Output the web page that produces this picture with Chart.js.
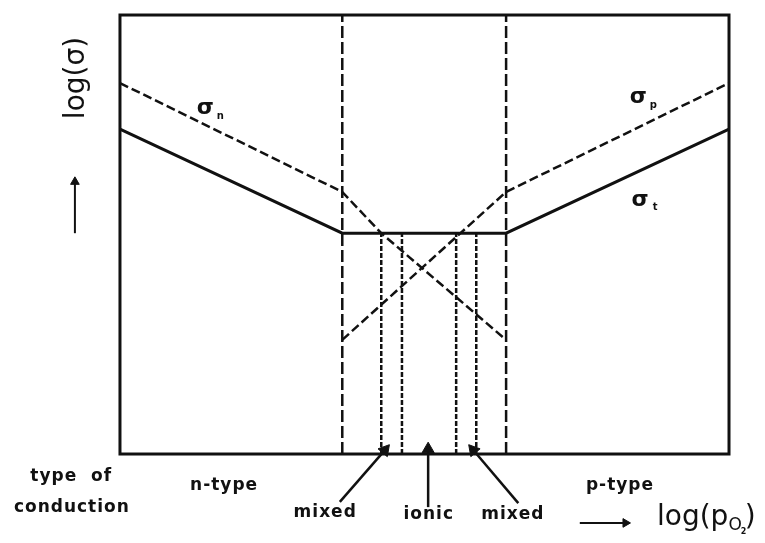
<!DOCTYPE html>
<html>
<head>
<meta charset="utf-8">
<script src="https://cdn.jsdelivr.net/npm/chart.js@4/dist/chart.umd.min.js"></script>
<style>
  html, body { margin: 0; padding: 0; background: #fff; }
  canvas { display: block; }
</style>
</head>
<body>
<canvas id="graficoConducao" width="765" height="543"></canvas>
<script>
// Condutividade em função de log(pO2): regiões n, misto, iônico, misto, p
const limitesExternos = [3.65, 6.34];
const limitesInternos = [4.29, 4.63, 5.52, 5.85];
const nivelIonico = 5.03;

const sigmaTx = [0, 3.65, 6.34, 10];
const sigmaTy = [7.4, 5.03, 5.03, 7.4];
const sigmaNx = [0, 3.65, 4.29, 6.34];
const sigmaNy = [8.45, 5.97, 5.03, 2.6];
const sigmaPx = [3.65, 6.34, 10];
const sigmaPy = [2.6, 5.97, 8.45];

const preto = '#111';
const pontos = (xs, ys) => xs.map((x, i) => ({ x: x, y: ys[i] }));

// setas (cauda -> ponta), rotação da ponta em graus
const setas = [
  { de: [3.61, -1.09], para: [4.35, 0.09], rot: 40, r: 7 },
  { de: [5.06, -1.21], para: [5.06, 0.11], rot: 0, r: 7 },
  { de: [6.54, -1.12], para: [5.80, 0.09], rot: -40, r: 7 },
  { de: [-0.74, 5.03], para: [-0.74, 6.2], rot: 0, r: 5, w: 2 },
  { de: [7.55, -1.57], para: [8.3, -1.57], rot: 90, r: 5, w: 2 }
];

const datasets = [];

limitesExternos.forEach(x => {
  datasets.push({
    data: [{ x: x, y: 0 }, { x: x, y: 10 }],
    borderColor: preto, borderWidth: 2.5, borderDash: [12, 4], pointRadius: 0
  });
});

limitesInternos.forEach(x => {
  datasets.push({
    data: [{ x: x, y: 0 }, { x: x, y: nivelIonico }],
    borderColor: preto, borderWidth: 2.5, borderDash: [5, 2], pointRadius: 0
  });
});

datasets.push({
  label: 'σn', data: pontos(sigmaNx, sigmaNy),
  borderColor: preto, borderWidth: 2.5, borderDash: [9, 4], pointRadius: 0
});
datasets.push({
  label: 'σp', data: pontos(sigmaPx, sigmaPy),
  borderColor: preto, borderWidth: 2.5, borderDash: [9, 4], pointRadius: 0
});
datasets.push({
  label: 'σt', data: pontos(sigmaTx, sigmaTy),
  borderColor: preto, borderWidth: 3, pointRadius: 0
});

setas.forEach(s => {
  datasets.push({
    data: [{ x: s.de[0], y: s.de[1] }, { x: s.para[0], y: s.para[1] }],
    borderColor: preto, borderWidth: s.w || 2.5,
    pointStyle: 'triangle', pointRadius: [0, s.r], pointRotation: [0, s.rot],
    pointBackgroundColor: preto, pointBorderColor: preto, pointBorderWidth: 1
  });
});

// textos em coordenadas dos eixos
const textos = [
  { t: 'type  of', x: -0.80, y: -0.52 },
  { t: 'conduction', x: -0.79, y: -1.21 },
  { t: 'n-type', x: 1.71, y: -0.71 },
  { t: 'mixed', x: 3.37, y: -1.34 },
  { t: 'ionic', x: 5.07, y: -1.39 },
  { t: 'mixed', x: 6.45, y: -1.37 },
  { t: 'p-type', x: 8.21, y: -0.71 }
];
const sigmas = [
  { sub: 'n', x: 1.40, y: 7.88 },
  { sub: 'p', x: 8.51, y: 8.13 },
  { sub: 't', x: 8.54, y: 5.79 }
];

const moldura = {
  id: 'moldura',
  afterDatasetsDraw(chart) {
    const { ctx, scales } = chart;
    const px = v => scales.x.getPixelForValue(v);
    const py = v => scales.y.getPixelForValue(v);
    ctx.save();
    ctx.strokeStyle = preto;
    ctx.lineWidth = 3;
    ctx.strokeRect(px(0), py(10), px(10) - px(0), py(0) - py(10));

    ctx.fillStyle = preto;
    ctx.textAlign = 'center';
    ctx.textBaseline = 'middle';
    ctx.font = 'bold 17px "DejaVu Sans"';
    ctx.letterSpacing = '1px';
    textos.forEach(r => ctx.fillText(r.t, px(r.x), py(r.y)));
    ctx.letterSpacing = '0px';

    sigmas.forEach(s => {
      ctx.font = 'bold 22px "DejaVu Sans"';
      ctx.fillText('σ', px(s.x), py(s.y));
      ctx.font = 'bold 10px "DejaVu Sans"';
      ctx.fillText(s.sub, px(s.x) + 15, py(s.y) + 8);
    });

    // log(σ) vertical
    ctx.save();
    ctx.translate(77, 78);
    ctx.rotate(-Math.PI / 2);
    ctx.font = '28px "DejaVu Sans"';
    ctx.fillText('log(σ)', 0, 0);
    ctx.restore();

    // log(pO2)
    ctx.textAlign = 'left';
    let x = 657;
    const y = 518;
    ctx.font = '28px "DejaVu Sans"';
    ctx.fillText('log(p', x, y);
    x += ctx.measureText('log(p').width;
    ctx.font = '17px "DejaVu Sans"';
    ctx.fillText('O', x, y + 8);
    x += ctx.measureText('O').width;
    ctx.font = 'bold 8px "DejaVu Sans"';
    ctx.fillText('2', x - 1, y + 14);
    x += 3;
    ctx.font = '28px "DejaVu Sans"';
    ctx.fillText(')', x, y);
    ctx.restore();
  }
};

new Chart(document.getElementById('graficoConducao'), {
  type: 'scatter',
  data: { datasets: datasets },
  options: {
    responsive: false,
    animation: false,
    showLine: true,
    layout: { padding: 0, autoPadding: false },
    plugins: { legend: { display: false }, tooltip: { enabled: false } },
    scales: {
      // o quadro vai de 0 a 10 nos dois eixos; o resto é margem para os textos
      x: { type: 'linear', min: -1.970, max: 10.591, display: false },
      y: { type: 'linear', min: -2.027, max: 10.342, display: false }
    }
  },
  plugins: [moldura]
});
</script>
</body>
</html>
